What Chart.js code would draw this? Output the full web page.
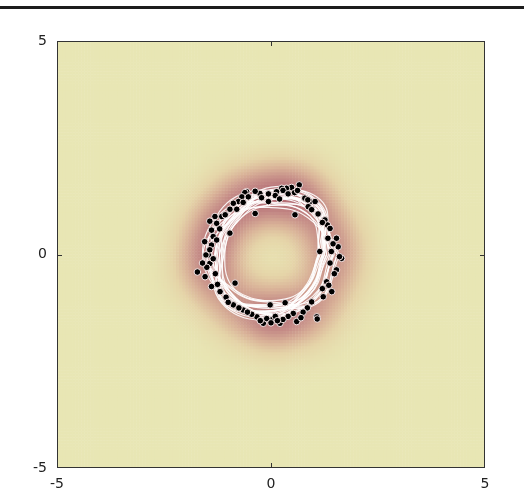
<!DOCTYPE html>
<html>
<head>
<meta charset="utf-8">
<script src="https://cdn.jsdelivr.net/npm/chart.js@4.4.0/dist/chart.umd.min.js"></script>
<style>
  body { margin: 0; background: #fff; }
</style>
</head>
<body>
<canvas id="ring-chart" width="524" height="492"></canvas>
<script>
var ptX = [0.66,0.48,0.36,0.25,0.28,0.13,-0.06,-0.26,-0.37,-0.57,-0.61,-0.22,-0.06,-0.68,-0.53,-0.76,-0.65,-0.88,-0.80,-0.96,-0.37,0.10,0.40,0.55,0.62,0.20,
  0.56,0.79,0.91,1.03,0.87,0.86,0.95,1.26,1.32,1.38,1.10,1.20,
  1.53,1.57,1.33,1.14,1.41,1.65,1.53,1.45,1.60,1.38,1.48,1.30,1.42,1.22,1.35,1.20,
  1.07,0.95,1.08,0.85,0.75,0.60,0.52,0.33,0.40,0.70,
  -0.02,0.02,0.21,-0.18,-0.33,0.10,-0.10,0.28,-0.25,-0.45,0.00,0.15,
  -0.65,-0.88,-0.75,-1.19,-1.39,-0.84,-1.05,-1.25,-0.55,-1.00,
  -1.72,-1.54,-1.43,-1.46,-1.52,-1.39,-1.43,-1.35,-1.27,-1.39,-1.43,-1.27,-1.31,-1.15,-1.07,-0.96,-1.50,-1.30,-1.55,-1.20,-1.60,-1.35];
var ptY = [1.63,1.57,1.55,1.55,1.50,1.47,1.42,1.43,1.48,1.47,1.45,1.33,1.24,1.35,1.35,1.24,1.22,1.20,1.06,1.06,0.96,1.38,1.42,1.45,1.50,1.30,
  0.93,1.32,1.24,1.24,1.12,1.28,1.05,0.81,0.69,0.61,0.95,0.75,
  0.38,0.18,0.38,0.07,0.07,-0.09,-0.36,0.25,-0.05,-0.20,-0.45,-0.64,-0.87,-0.99,-0.72,-0.80,
  -1.46,-1.11,-1.51,-1.25,-1.35,-1.57,-1.38,-1.13,-1.45,-1.48,
  -1.18,-1.53,-1.61,-1.61,-1.46,-1.45,-1.50,-1.52,-1.55,-1.40,-1.60,-1.55,
  -1.30,-1.18,-1.25,-0.87,-0.75,-0.67,-1.00,-0.70,-1.35,-1.12,
  -0.41,-0.52,-0.21,-0.01,-0.01,0.22,0.11,0.42,0.34,0.57,0.78,0.73,0.89,0.89,0.93,0.50,-0.30,-0.45,0.30,0.60,-0.20,-0.10];

// fitted closed curves: radius at each angle (degrees)
var curveAngles = [0, 45, 90, 135, 180, 225, 270, 315];
var curveRadii = [
  [1.30,1.38,1.30,1.26,1.30,1.34,1.26,1.30],
  [1.20,1.55,1.42,1.20,1.15,1.48,1.35,1.15],
  [1.45,1.28,1.20,1.42,1.50,1.22,1.12,1.45],
  [1.12,1.62,1.52,1.12,1.10,1.58,1.45,1.10],
  [1.55,1.22,1.10,1.30,1.58,1.18,1.10,1.55],
  [1.25,1.48,1.50,1.38,1.20,1.42,1.50,1.22],
  [1.10,1.45,1.30,1.15,1.12,1.35,1.22,1.12],
  [1.60,1.40,1.22,1.50,1.60,1.45,1.22,1.58],
  [1.35,1.65,1.58,1.25,1.32,1.62,1.52,1.25],
  [1.15,1.28,1.15,1.10,1.08,1.18,1.08,1.12],
  [1.48,1.50,1.35,1.42,1.42,1.52,1.32,1.38],
  [1.22,1.72,1.48,1.22,1.28,1.48,1.32,1.30],
  [1.42,1.35,1.50,1.58,1.38,1.30,1.42,1.48],
  [1.30,1.55,1.28,1.10,1.20,1.60,1.32,1.22],
  [1.12,1.40,1.42,1.35,1.15,1.30,1.38,1.15],
  [1.55,1.48,1.32,1.22,1.48,1.40,1.18,1.55],
  [1.25,1.62,1.40,1.30,1.40,1.55,1.42,1.25],
  [1.38,1.42,1.15,1.22,1.30,1.30,1.50,1.42],
  [1.20,1.50,1.35,1.18,1.25,1.42,1.18,1.25],
  [1.45,1.58,1.45,1.40,1.52,1.45,1.40,1.45]
];

var axisTicks = [-5, 0, 5];

// colour map for the density background
var colorStops = [[232,230,180],[229,212,168],[217,178,152],[198,142,136],[180,108,116]];
var gridN = 140;
var bandwidth = 0.47;

function mapColor(t) {
  t = Math.max(0, Math.min(1, t));
  var p = t * (colorStops.length - 1);
  var i = Math.min(colorStops.length - 2, Math.floor(p));
  var f = p - i;
  var a = colorStops[i], b = colorStops[i + 1];
  return 'rgb(' + Math.round(a[0] + (b[0] - a[0]) * f) + ',' +
    Math.round(a[1] + (b[1] - a[1]) * f) + ',' +
    Math.round(a[2] + (b[2] - a[2]) * f) + ')';
}

// kernel density of the points on a grid
var step = 10 / gridN;
var cells = [];
var maxD = 0;
for (var i = 0; i < gridN; i++) {
  for (var j = 0; j < gridN; j++) {
    var cx = -5 + (i + 0.5) * step;
    var cy = -5 + (j + 0.5) * step;
    var d = 0;
    for (var k = 0; k < ptX.length; k++) {
      var dx = cx - ptX[k], dy = cy - ptY[k];
      d += Math.exp(-(dx * dx + dy * dy) / (2 * bandwidth * bandwidth));
    }
    if (d > maxD) maxD = d;
    cells.push({ x: cx, y: cy, d: d });
  }
}
var cellColors = cells.map(function (c) { return mapColor(Math.pow(c.d / maxD, 0.8)); });

var datasets = [];

datasets.push({
  label: 'density',
  data: cells,
  pointStyle: 'rect',
  backgroundColor: cellColors,
  borderWidth: 0,
  pointRadius: function (c) {
    var s = c.chart.scales.x;
    return Math.abs(s.getPixelForValue(step) - s.getPixelForValue(0)) / Math.SQRT2 + 0.35;
  },
  order: 3
});

curveRadii.forEach(function (radii, n) {
  var pts = [];
  for (var a = 0; a <= curveAngles.length; a++) {
    var idx = a % curveAngles.length;
    var th = curveAngles[idx] * Math.PI / 180;
    pts.push({ x: radii[idx] * Math.cos(th), y: radii[idx] * Math.sin(th) });
  }
  datasets.push({
    label: 'curve ' + n,
    data: pts,
    showLine: true,
    tension: 0.42,
    borderColor: 'rgba(255,255,255,0.9)',
    borderWidth: 1.2,
    pointRadius: 0,
    order: 2
  });
});

datasets.push({
  label: 'points',
  data: ptX.map(function (x, i) { return { x: x, y: ptY[i] }; }),
  backgroundColor: '#000',
  borderColor: 'rgba(255,238,238,0.95)',
  borderWidth: 1,
  pointRadius: 3.3,
  order: 1
});

var frame = {
  id: 'frame',
  beforeDraw: function (chart) {
    var ctx = chart.ctx;
    ctx.save();
    ctx.fillStyle = '#fff';
    ctx.fillRect(0, 0, chart.width, chart.height);
    ctx.restore();
  },
  afterDraw: function (chart) {
    var ctx = chart.ctx, a = chart.chartArea;
    var x0 = chart.scales.x.getPixelForValue(0);
    var y0 = chart.scales.y.getPixelForValue(0);
    ctx.save();
    ctx.strokeStyle = '#333';
    ctx.lineWidth = 1;
    ctx.strokeRect(a.left + 0.5, a.top + 0.5, a.right - a.left - 1, a.bottom - a.top - 1);
    ctx.beginPath();
    ctx.moveTo(Math.round(x0) + 0.5, a.bottom); ctx.lineTo(Math.round(x0) + 0.5, a.bottom - 5);
    ctx.moveTo(Math.round(x0) + 0.5, a.top); ctx.lineTo(Math.round(x0) + 0.5, a.top + 5);
    ctx.moveTo(a.left, Math.round(y0) + 0.5); ctx.lineTo(a.left + 5, Math.round(y0) + 0.5);
    ctx.moveTo(a.right, Math.round(y0) + 0.5); ctx.lineTo(a.right - 5, Math.round(y0) + 0.5);
    ctx.stroke();
    // rule at the top of the page
    ctx.fillStyle = '#1c1c1c';
    ctx.fillRect(0, 6, chart.width, 3);
    ctx.restore();
  }
};

var tickFont = { family: 'DejaVu Sans', size: 14 };

new Chart(document.getElementById('ring-chart').getContext('2d'), {
  type: 'scatter',
  data: { datasets: datasets },
  options: {
    responsive: false,
    animation: false,
    events: [],
    devicePixelRatio: 1,
    layout: { padding: { left: 0, top: 41, right: 39, bottom: 0 } },
    plugins: { legend: { display: false }, tooltip: { enabled: false } },
    scales: {
      x: {
        type: 'linear', min: -5, max: 5,
        afterBuildTicks: function (s) { s.ticks = axisTicks.map(function (v) { return { value: v }; }); },
        ticks: { font: tickFont, color: '#222', padding: 8, maxRotation: 0, autoSkip: false },
        grid: { display: false, drawTicks: false },
        border: { display: false },
        afterFit: function (s) { s.height = 24; }
      },
      y: {
        type: 'linear', min: -5, max: 5,
        afterBuildTicks: function (s) { s.ticks = axisTicks.map(function (v) { return { value: v }; }); },
        ticks: { font: tickFont, color: '#222', padding: 10, autoSkip: false },
        grid: { display: false, drawTicks: false },
        border: { display: false },
        afterFit: function (s) { s.width = 57; }
      }
    }
  },
  plugins: [frame]
});
</script>
</body>
</html>
